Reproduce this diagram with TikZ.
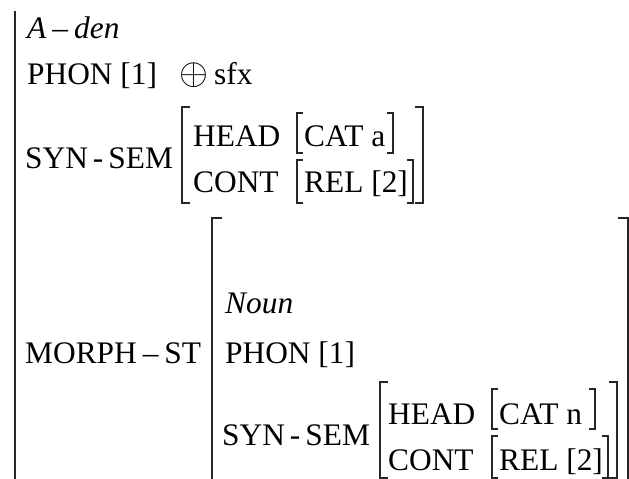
\documentclass[tikz,border=0pt]{standalone}
\usepackage{fontspec}
\setmainfont{Liberation Serif}
\newcommand{\hsp}{\hspace{5bp}}
\newcommand{\dsp}{\hspace{6bp}}
\begin{document}
\begin{tikzpicture}[x=1bp,y=-1bp,
  txt/.style={anchor=base west,inner sep=0pt,font=\fontsize{31.5}{36}\selectfont},
  brk/.style={line width=1.4bp,draw=black!85}]
\useasboundingbox (0,0) rectangle (629,479);
% left bar
\draw[brk,line width=1.8bp] (15,11) -- (15,482);
% top rows
\node[txt] (aden) at (27,39) {\textit{A}\dsp–\dsp\textit{den}};
\node[txt] (phon1) at (27,85) {PHON [1]};
\node[txt,anchor=base] (oplus) at (194,85) {\scalebox{1.5}{$\oplus$}};
\node[txt] (sfx) at (214,85) {sfx};
\node[txt] (ss1) at (25,169) {SYN\hsp-\hsp SEM};
\node[txt] (head1) at (193,147) {HEAD};
\node[txt] (cat1) at (304,147) {CAT a};
\node[txt] (cont1) at (193,193) {CONT};
\node[txt] (rel1) at (304,193) {REL [2]};
% upper brackets
\draw[brk] (190,107) -- (182,107) -- (182,203) -- (190,203);
\draw[brk] (415,107) -- (423,107) -- (423,203) -- (415,203);
\draw[brk] (303,113) -- (297,113) -- (297,153) -- (303,153);
\draw[brk] (387,113) -- (393,113) -- (393,153) -- (387,153);
\draw[brk] (303,160) -- (297,160) -- (297,203) -- (303,203);
\draw[brk] (407,160) -- (413,160) -- (413,203) -- (407,203);
% morph-st
\node[txt] (morph) at (25,363) {MORPH\dsp–\dsp ST};
\draw[brk] (222,218) -- (212,218) -- (212,482);
\draw[brk] (618,218) -- (628,218) -- (628,482);
\node[txt] (noun) at (225,313) {\textit{Noun}};
\node[txt] (phon2) at (225,363) {PHON [1]};
\node[txt] (ss2) at (222,445) {SYN\hsp-\hsp SEM};
\node[txt] (head2) at (388,424) {HEAD};
\node[txt] (cat2) at (499,424) {CAT n};
\node[txt] (cont2) at (388,470) {CONT};
\node[txt] (rel2) at (499,470) {REL [2]};
\draw[brk] (388,382) -- (380,382) -- (380,478) -- (388,478);
\draw[brk] (609,382) -- (617,382) -- (617,478) -- (609,478);
\draw[brk] (498,389) -- (492,389) -- (492,429) -- (498,429);
\draw[brk] (589,389) -- (595,389) -- (595,429) -- (589,429);
\draw[brk] (498,436) -- (492,436) -- (492,478) -- (498,478);
\draw[brk] (602,436) -- (608,436) -- (608,478) -- (602,478);
\end{tikzpicture}
\end{document}
